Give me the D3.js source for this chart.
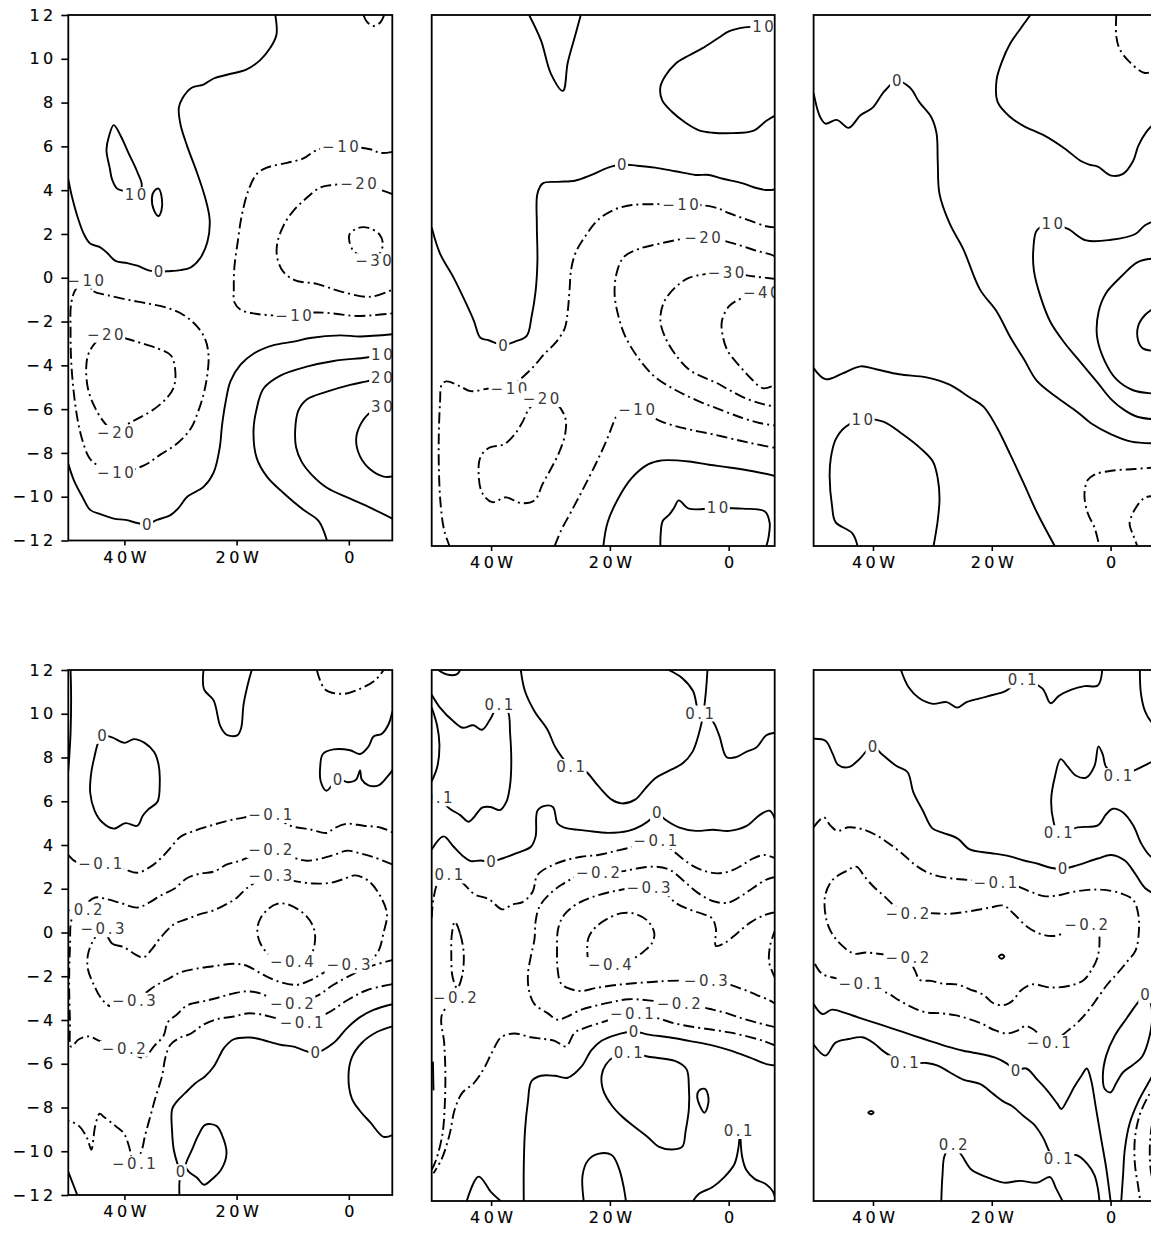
<!DOCTYPE html>
<html><head><meta charset="utf-8">
<script src="https://cdn.jsdelivr.net/npm/d3@7"></script>
<style>body{margin:0;background:#fff}</style>
</head><body>
<svg id="c" width="1151" height="1237" style="background:#fff"></svg>
<script>
// ---------- axes data ----------
const lonDomain=[-50,7.75], latDomain=[-12,12];
const xTicks=[-40,-20,0];
const xTickLabels=["40W","20W","0"];
const yTicks=[12,10,8,6,4,2,0,-2,-4,-6,-8,-10,-12];

// ---------- panel 1 (top-left) contour lines [lon,lat] ----------
const p1Lines=[
{v:0,p:[[-13.1,12],[-12.9,11.1],[-14.0,10.5],[-15.8,9.94],[-18.2,9.52],[-21.7,9.27],[-24.1,9.1],[-25.9,8.82],[-28.0,8.68],[-29.7,8.18],[-30.3,7.76],[-30.0,7.0],[-28.8,6.0],[-27.1,4.83],[-25.6,3.65],[-24.8,2.65],[-25.2,1.64],[-26.5,0.89],[-28.2,0.47],[-30.0,0.35],[-32.4,0.30],[-33.9,0.27],[-35.7,0.34],[-37.7,0.55],[-39.5,0.67],[-41.6,0.77],[-43.1,1.14],[-44.3,1.39],[-46.1,1.56],[-47.2,1.98],[-48.4,2.82],[-49.3,3.65],[-50,4.49]]},
{v:10,c:1,p:[[-41.9,6.97],[-42.8,6.42],[-43.2,5.83],[-42.6,4.99],[-42.2,4.49],[-41.3,4.07],[-40.1,3.96],[-38.0,3.79],[-36.9,4.19],[-37.7,4.83],[-39.2,5.66],[-40.7,6.5]]},
{v:10,c:1,p:[[-33.9,4.07],[-33.3,3.57],[-33.4,3.07],[-33.9,2.82],[-34.7,3.07],[-35.1,3.65],[-34.7,3.96]]},
{v:-10,p:[[7.77,5.75],[5.6,5.7],[3.8,5.87],[-1.5,6.0],[-5.7,5.83],[-8.1,5.45],[-11.0,5.25],[-14.6,5.03],[-16.4,4.74],[-17.9,3.99],[-19.1,2.82],[-19.8,1.64],[-20.4,0.47],[-20.5,-0.54],[-20.4,-1.12],[-19.3,-1.46],[-17.0,-1.63],[-14.0,-1.71],[-9.85,-1.74],[-6.3,-1.59],[-2.7,-1.63],[0.83,-1.74],[4.4,-1.71],[7.77,-1.63]]},
{v:-20,p:[[7.77,3.82],[4.98,4.07],[1.72,4.32],[-2.73,4.24],[-5.1,4.12],[-7.5,3.65],[-9.85,3.07],[-11.6,2.4],[-12.7,1.64],[-12.8,0.97],[-11.75,0.30],[-9.55,-0.12],[-5.7,-0.28],[-1.54,-0.62],[3.8,-0.87],[7.77,-0.54]]},
{v:-30,c:1,p:[[0.12,1.98],[1.72,2.28],[3.5,2.28],[5.46,1.98],[6.05,1.47],[4.4,0.77],[2.3,0.97],[0.83,1.22],[0.12,1.64]]},
{v:0,p:[[-50,-8.5],[-49.0,-9.25],[-47.5,-10.0],[-46.1,-10.6],[-44.3,-10.8],[-41.9,-11.0],[-39.8,-11.06],[-37.7,-11.2],[-36.0,-11.26],[-34.2,-11.06],[-31.8,-10.84],[-30.3,-10.5],[-28.8,-10.0],[-25.9,-9.55],[-24.1,-8.9],[-23.0,-7.74],[-22.6,-6.74],[-22.0,-5.73],[-21.1,-4.73],[-19.3,-3.97],[-17.0,-3.47],[-13.4,-3.08],[-9.85,-2.92],[-6.9,-2.75],[-1.54,-2.63],[2.0,-2.68],[7.77,-2.58]]},
{v:10,p:[[7.77,-3.52],[5.9,-3.52],[3.2,-3.64],[-2.7,-3.8],[-7.5,-4.06],[-12.2,-4.47],[-15.2,-5.06],[-16.5,-6.07],[-17.0,-7.07],[-16.4,-8.25],[-14.6,-9.08],[-11.6,-9.84],[-8.1,-10.6],[-5.4,-11.1],[-3.9,-12]]},
{v:20,p:[[7.77,-4.56],[5.9,-4.56],[3.2,-4.73],[0.24,-4.89],[-3.9,-5.2],[-7.5,-5.56],[-9.0,-6.07],[-9.55,-6.9],[-9.4,-7.74],[-8.4,-8.41],[-6.6,-9.0],[-3.9,-9.59],[0.24,-10.09],[3.8,-10.5],[7.77,-11.0]]},
{v:30,p:[[7.77,-5.85],[5.9,-5.9],[3.8,-6.15],[2.0,-6.74],[1.3,-7.4],[2.0,-8.16],[3.8,-8.75],[6.2,-9.08],[7.77,-9.08]]},
{v:-10,c:1,p:[[-46.9,-0.12],[-45.5,-0.62],[-43.1,-0.79],[-39.5,-1.0],[-36.0,-1.17],[-32.4,-1.37],[-29.4,-1.71],[-27.1,-2.21],[-25.6,-2.8],[-25.0,-3.55],[-25.2,-4.39],[-25.8,-5.23],[-26.8,-6.07],[-28.2,-6.9],[-30.6,-7.57],[-33.6,-8.08],[-36.6,-8.58],[-41.6,-8.92],[-44.9,-8.55],[-46.3,-8.21],[-47.5,-7.41],[-48.4,-6.4],[-49.1,-5.06],[-49.5,-3.72],[-49.6,-2.38],[-49.5,-1.21],[-48.7,-0.54]]},
{v:-20,c:1,p:[[-43.4,-2.58],[-40.1,-2.75],[-37.2,-2.97],[-34.2,-3.22],[-31.7,-3.55],[-30.9,-4.39],[-31.3,-5.06],[-32.7,-5.56],[-35.1,-6.07],[-37.4,-6.4],[-39.5,-6.7],[-41.6,-7.07],[-43.7,-6.57],[-45.3,-5.9],[-46.5,-5.06],[-46.8,-4.06],[-46.4,-3.47],[-45.2,-2.97]]},
{v:-10,p:[[2.6,12],[3.2,11.7],[4.3,11.5],[5.6,11.66],[6.3,12]]}
];
const p1Labels=[["0",-33.9,0.27],["10",-38.0,3.79],["−10",-1.5,6.0],["−20",1.72,4.32],["−30",4.4,0.77],["−10",-9.85,-1.74],["−10",-46.9,-0.12],["−20",-43.4,-2.58],["−20",-41.6,-7.07],["−10",-41.6,-8.92],["0",-36.0,-11.26],["10",5.9,-3.52],["20",5.9,-4.56],["30",5.9,-5.9]];

// ---------- panel 2 (top-middle) ----------
const p2Lines=[
{v:0,p:[[-33.6,12],[-31.6,10.85],[-29.9,9.33],[-27.9,8.57],[-27.1,9.84],[-25.9,11.02],[-24.9,12]]},
{v:10,p:[[7.93,11.49],[5.8,11.49],[2.66,11.44],[0.11,11.27],[-1.87,10.94],[-4.4,10.5],[-6.7,10.17],[-8.95,9.8],[-10.65,9.25],[-11.5,8.74],[-11.2,8.15],[-9.6,7.64],[-7.25,7.13],[-5.0,6.79],[-2.7,6.68],[0.68,6.66],[4.1,6.76],[6.35,7.22],[7.93,7.47]]},
{v:0,p:[[-50,2.4],[-48.6,1.22],[-46.3,0.12],[-44.6,-0.81],[-42.9,-1.82],[-41.8,-2.59],[-40.4,-2.7],[-38.0,-2.92],[-35.9,-2.75],[-34.0,-2.5],[-33.2,-1.66],[-32.5,-0.47],[-32.2,0.88],[-32.3,2.57],[-32.2,3.92],[-31.3,4.39],[-28.8,4.46],[-25.9,4.51],[-23.1,4.77],[-20.3,5.1],[-18.0,5.24],[-15.5,5.19],[-12.4,5.1],[-9.0,4.94],[-5.55,4.77],[-3.3,4.77],[-1.0,4.6],[2.4,4.39],[4.65,4.18],[6.35,4.09],[7.93,4.12]]},
{v:-10,p:[[7.93,2.4],[6.35,2.45],[3.2,2.74],[0.11,3.04],[-2.7,3.33],[-8.1,3.45],[-12.4,3.45],[-16.3,3.41],[-19.2,3.21],[-22.0,2.74],[-24.2,1.98],[-25.7,1.3],[-26.5,0.54],[-26.8,-0.47],[-27.1,-1.4],[-27.6,-2.16],[-29.1,-2.8],[-31.0,-3.31],[-33.0,-3.94],[-35.0,-4.44],[-37.0,-4.87],[-40.1,-4.87],[-43.5,-5.0],[-45.2,-4.78],[-47.5,-4.56],[-48.3,-4.7],[-48.6,-5.54],[-48.8,-6.9],[-48.8,-8.42],[-48.5,-10.11],[-47.9,-11.29],[-47.0,-12]]},
{v:-20,p:[[7.93,1.05],[7.5,1.13],[4.65,1.35],[1.25,1.64],[-1.87,1.86],[-4.4,1.93],[-7.5,1.89],[-11.2,1.69],[-15.2,1.42],[-17.7,1.05],[-18.9,0.29],[-19.2,-0.64],[-18.6,-1.57],[-17.45,-2.5],[-15.2,-3.51],[-12.4,-4.36],[-8.95,-4.95],[-5.0,-5.46],[-1.0,-5.88],[2.4,-6.22],[5.2,-6.44],[7.93,-6.56]]},
{v:-30,p:[[7.93,0.07],[6.35,0.12],[3.8,0.2],[-0.45,0.37],[-3.85,0.29],[-6.7,0.12],[-8.95,-0.3],[-10.9,-0.98],[-11.5,-1.82],[-10.65,-2.59],[-8.95,-3.35],[-6.7,-4.02],[-4.4,-4.36],[-2.15,-4.61],[0.11,-4.95],[2.95,-5.34],[5.8,-5.59],[7.93,-5.71]]},
{v:-40,p:[[7.93,-0.47],[5.5,-0.56],[2.4,-0.78],[0.11,-1.15],[-1.13,-1.82],[-1.0,-2.5],[-0.17,-3.18],[1.8,-3.85],[3.8,-4.44],[5.8,-4.87],[7.93,-4.7]]},
{v:-10,p:[[-29.3,-12],[-28.2,-11.29],[-26.5,-10.44],[-24.2,-9.26],[-22.0,-8.08],[-20.3,-7.06],[-19.2,-6.3],[-18.3,-5.88],[-15.5,-5.83],[-11.2,-6.39],[-6.7,-6.73],[-2.7,-6.95],[1.8,-7.23],[4.65,-7.4],[7.93,-7.57]]},
{v:-20,c:1,p:[[-31.6,-5.34],[-28.8,-5.63],[-27.5,-6.22],[-27.5,-6.9],[-28.5,-7.74],[-29.9,-8.5],[-31.3,-9.18],[-32.7,-9.94],[-35.0,-10.06],[-37.5,-9.8],[-39.8,-10.02],[-41.5,-9.6],[-42.1,-8.75],[-41.8,-7.99],[-40.4,-7.57],[-37.8,-7.4],[-36.1,-6.98],[-34.7,-6.39],[-33.6,-5.8]]},
{v:0,p:[[-21.1,-12],[-20.4,-10.95],[-18.6,-9.85],[-16.3,-8.92],[-13.5,-8.3],[-11.2,-8.13],[-6.7,-8.18],[-3.3,-8.33],[0.11,-8.45],[4.1,-8.62],[7.93,-8.84]]},
{v:10,p:[[-11.5,-12],[-11.45,-11.46],[-11.1,-10.87],[-10.0,-10.58],[-9.2,-10.28],[-8.4,-9.94],[-6.7,-10.31],[-1.87,-10.28],[2.4,-10.31],[6.1,-10.44],[6.9,-10.95],[6.7,-11.63],[6.35,-12]]}
];
const p2Labels=[["10",5.8,11.49],["0",-18.0,5.24],["0",-38.0,-2.92],["−10",-8.1,3.45],["−20",-4.4,1.93],["−30",-0.45,0.37],["−40",5.5,-0.56],["−10",-37.0,-4.87],["−20",-31.6,-5.34],["−10",-15.5,-5.83],["10",-1.87,-10.28]];

// ---------- panel 3 (top-right) ----------
const p3Lines=[
{v:0,p:[[-50,8.47],[-48.9,7.39],[-48.0,7.09],[-46.1,7.26],[-44.1,6.9],[-42.1,7.47],[-40.1,7.8],[-38.1,8.55],[-36.0,9.02],[-33.8,8.72],[-32.2,8.06],[-30.2,7.39],[-29.3,6.65],[-29.1,5.4],[-28.8,3.91],[-27.1,2.58],[-24.8,1.42],[-22.0,-0.4],[-19.2,-1.39],[-16.9,-2.55],[-14.6,-3.55],[-12.4,-4.54],[-9.0,-5.29],[-5.55,-5.95],[-3.3,-6.45],[0.11,-6.95],[3.5,-7.28],[7.93,-7.36]]},
{v:0,p:[[-13.5,12],[-15.2,11.37],[-16.9,10.71],[-18.3,9.88],[-19.2,9.05],[-19.0,8.06],[-16.9,7.39],[-14.6,6.98],[-11.2,6.56],[-7.8,5.98],[-5.0,5.4],[-3.6,5.24],[-2.15,5.15],[0.11,4.74],[2.1,4.82],[3.8,5.4],[4.65,6.07],[6.06,6.73],[7.93,7.23]]},
{v:-10,p:[[0.96,12],[0.96,11.04],[1.53,10.46],[3.2,9.88],[5.8,9.38],[7.93,9.55]]},
{v:10,p:[[7.93,2.75],[5.8,2.5],[4.1,2.09],[0.11,1.84],[-4.1,1.81],[-7.25,2.34],[-9.8,2.55],[-12.35,2.29],[-13.0,1.42],[-12.9,0.43],[-11.8,-0.73],[-10.1,-1.89],[-7.8,-2.8],[-5.0,-3.71],[-2.15,-4.63],[0.11,-5.37],[2.4,-5.87],[4.65,-6.17],[7.93,-6.28]]},
{v:20,p:[[7.93,1.01],[4.65,0.84],[1.8,0.18],[-0.74,-0.56],[-2.0,-1.39],[-2.27,-2.55],[-1.0,-3.63],[0.96,-4.46],[3.8,-4.96],[7.93,-5.12]]},
{v:30,p:[[7.93,-1.14],[5.8,-1.56],[4.65,-2.06],[4.65,-2.72],[5.5,-3.08],[7.93,-3.18]]},
{v:0,p:[[-50,-3.96],[-48.0,-4.46],[-45.2,-4.21],[-42.1,-3.88],[-39.5,-4.01],[-35.6,-4.24],[-31.0,-4.38],[-27.1,-4.71],[-23.7,-5.29],[-21.4,-5.7],[-19.2,-6.61],[-16.9,-7.86],[-14.6,-9.18],[-12.35,-10.51],[-9.4,-12]]},
{v:10,p:[[-42.6,-12],[-43.5,-11.42],[-46.3,-10.92],[-46.9,-10.18],[-47.3,-8.85],[-47.1,-8.02],[-46.3,-7.19],[-44.6,-6.61],[-41.8,-6.28],[-38.4,-6.37],[-35.0,-6.95],[-31.9,-7.61],[-29.9,-8.19],[-29.1,-8.94],[-28.8,-9.85],[-29.1,-10.84],[-29.8,-12]]},
{v:-10,p:[[7.93,-8.44],[4.1,-8.52],[0.11,-8.6],[-2.7,-8.77],[-3.85,-9.02],[-4.4,-9.68],[-3.85,-10.51],[-2.7,-11.17],[-1.9,-12]]},
{v:-20,p:[[7.93,-9.76],[5.8,-9.81],[4.1,-10.34],[3.2,-11.0],[3.8,-11.5],[4.5,-12]]}
];
const p3Labels=[["0",-36.0,9.02],["10",-9.8,2.55],["10",-41.8,-6.28]];

// ---------- panel 4 (bottom-left) ----------
const p4Lines=[
{v:0,p:[[-49.6,12],[-49.5,10.8],[-49.6,9.1],[-50,7.4]]},
{v:0,c:1,p:[[-44.0,9.01],[-42.2,8.92],[-40.0,8.67],[-38.3,8.84],[-36.4,8.67],[-34.7,8.25],[-33.9,7.66],[-33.7,6.82],[-34.1,5.98],[-35.7,5.64],[-36.7,5.35],[-37.7,4.88],[-39.8,5.0],[-41.9,4.75],[-44.0,5.05],[-45.3,5.56],[-46.1,6.4],[-45.9,7.32],[-45.3,8.08],[-44.7,8.67]]},
{v:0,p:[[-25.9,12],[-25.8,11.11],[-24.1,10.61],[-22.9,9.43],[-21.8,9.04],[-19.9,9.01],[-19.2,9.34],[-18.75,10.44],[-17.9,11.45],[-17.3,12]]},
{v:-0.1,p:[[-5.7,12],[-4.2,11.11],[-0.95,10.91],[2.0,11.14],[4.7,11.53],[6.2,12]]},
{v:0,p:[[7.77,10.1],[7.06,9.51],[5.9,9.09],[4.4,8.96],[3.5,8.5],[2.0,8.16],[0.24,8.33],[-2.73,8.37],[-4.63,8.16],[-5.1,7.58],[-5.0,6.9],[-4.0,6.48],[-2.0,6.99],[-0.06,6.87],[1.3,6.99],[2.0,7.41],[2.3,6.99],[3.5,6.73],[5.3,6.73],[6.8,7.1],[7.77,7.41]]},
{v:-0.1,p:[[-50,3.54],[-48.4,3.2],[-44.3,3.16],[-40.1,2.9],[-37.7,2.73],[-35.4,3.0],[-33.6,3.37],[-31.8,3.87],[-30.0,4.38],[-27.7,4.63],[-24.7,4.88],[-21.7,5.1],[-18.75,5.25],[-14.0,5.39],[-10.4,4.88],[-6.9,4.71],[-3.9,4.55],[-2.7,4.75],[-0.36,4.97],[2.6,4.88],[5.6,4.8],[7.77,4.58]]},
{v:-0.2,p:[[7.77,3.11],[4.4,3.45],[2.0,3.62],[-0.36,3.74],[-2.7,3.54],[-5.1,3.37],[-7.5,3.28],[-9.85,3.42],[-14.0,3.79],[-17.0,3.54],[-19.35,3.28],[-21.7,3.11],[-24.1,2.78],[-26.5,2.69],[-28.8,2.49],[-31.2,1.99],[-33.6,1.68],[-35.7,1.35],[-37.7,1.14],[-40.7,1.35],[-43.1,1.52],[-45.2,1.6],[-47.8,1.06],[-49.3,0.67],[-49.7,-0.67],[-49.85,-2.36],[-49.7,-4.04],[-49.5,-5.22],[-48.1,-4.88],[-46.35,-4.75],[-44.3,-4.97],[-40.1,-5.3],[-36.6,-5.72],[-34.7,-5.19],[-33.0,-4.71],[-32.3,-4.12],[-30.6,-3.74],[-28.8,-3.33],[-25.3,-3.11],[-22.9,-2.95],[-20.5,-2.78],[-18.2,-2.69],[-15.8,-2.78],[-13.4,-3.06],[-10.15,-3.23],[-5.7,-2.9],[-2.73,-2.39],[0.83,-1.89],[3.8,-1.55],[7.77,-1.26]]},
{v:-0.3,c:1,p:[[-43.9,0.17],[-42.2,-0.5],[-40.1,-0.67],[-38.0,-1.01],[-36.6,-1.14],[-35.1,-0.76],[-33.6,-0.25],[-31.2,0.37],[-28.8,0.62],[-26.5,0.84],[-24.1,1.01],[-21.7,1.31],[-19.9,1.6],[-18.2,2.02],[-14.0,2.61],[-9.85,2.36],[-6.3,2.24],[-3.3,2.27],[-0.95,2.44],[1.13,2.61],[3.5,2.36],[5.58,1.68],[6.8,0.84],[6.2,0.0],[5.3,-0.84],[3.8,-1.26],[-0.06,-1.48],[-3.9,-1.77],[-6.9,-2.19],[-9.26,-2.39],[-12.2,-2.27],[-15.2,-1.94],[-18.2,-1.52],[-20.5,-1.43],[-23.5,-1.52],[-27.1,-1.65],[-30.0,-1.82],[-32.4,-2.15],[-34.5,-2.44],[-38.3,-3.11],[-42.5,-3.37],[-44.3,-2.95],[-45.5,-2.36],[-46.5,-1.68],[-46.5,-1.01],[-45.5,-0.34]]},
{v:-0.4,c:1,p:[[-10.15,-1.31],[-12.8,-1.26],[-14.6,-0.93],[-15.9,-0.42],[-16.3,0.17],[-15.7,0.67],[-14.3,1.09],[-12.8,1.31],[-11.2,1.31],[-9.26,1.09],[-7.6,0.76],[-6.4,0.3],[-6.0,-0.2],[-6.4,-0.84],[-7.4,-1.21]]},
{v:-0.1,p:[[7.77,-2.36],[3.2,-2.64],[-0.36,-3.11],[-3.9,-3.7],[-8.4,-4.12],[-12.2,-3.96],[-15.8,-3.74],[-18.2,-3.7],[-20.5,-3.84],[-23.5,-3.96],[-25.9,-4.21],[-28.2,-4.63],[-30.0,-4.8],[-31.8,-5.13],[-32.7,-5.72],[-33.3,-6.57],[-34.5,-7.58],[-35.4,-8.42],[-36.3,-9.26],[-37.0,-10.02],[-38.3,-10.57],[-39.2,-9.76],[-40.1,-9.18],[-41.6,-8.84],[-43.7,-8.42],[-44.4,-8.28],[-45.2,-8.84],[-45.9,-9.93],[-46.6,-9.43],[-48.1,-8.84],[-50,-8.59]]},
{v:0,p:[[7.77,-3.28],[4.4,-3.54],[2.0,-3.87],[-0.36,-4.38],[-2.73,-5.05],[-6.0,-5.5],[-9.85,-5.22],[-12.2,-5.13],[-15.8,-4.88],[-17.6,-4.8],[-20.5,-4.88],[-22.3,-5.3],[-23.2,-5.72],[-24.1,-6.14],[-25.6,-6.57],[-27.4,-6.9],[-29.1,-7.32],[-30.6,-7.71],[-31.5,-8.08],[-31.5,-9.09],[-31.2,-9.93],[-30.5,-10.61],[-30.0,-10.94],[-30.2,-11.45],[-30.2,-12]]},
{v:0,c:1,p:[[-29.1,-10.69],[-27.95,-9.93],[-26.8,-9.26],[-25.6,-8.79],[-23.6,-8.84],[-22.6,-9.26],[-21.8,-10.1],[-22.8,-10.86],[-24.4,-11.28],[-25.8,-11.53],[-27.1,-11.2],[-28.5,-10.94]]},
{v:0.1,p:[[7.77,-4.29],[5.0,-4.55],[2.3,-5.05],[0.53,-5.72],[-0.06,-6.57],[0.53,-7.58],[2.0,-8.16],[3.8,-8.67],[6.2,-9.34],[7.77,-9.26]]},
{v:0,p:[[-50,-10.94],[-48.4,-12]]}
];
const p4Labels=[["0",-44.0,9.01],["0",-2.0,6.99],["−0.1",-14.0,5.39],["−0.1",-44.3,3.16],["−0.2",-14.0,3.79],["−0.3",-14.0,2.61],["−0.2",-47.8,1.06],["−0.3",-43.9,0.17],["−0.4",-10.15,-1.31],["−0.3",-0.06,-1.48],["−0.3",-38.3,-3.11],["−0.2",-10.15,-3.23],["−0.1",-8.4,-4.12],["−0.2",-40.1,-5.3],["0",-6.0,-5.5],["−0.1",-38.3,-10.57],["0",-30.0,-10.94]];

// ---------- panel 5 (bottom-middle) ----------
const p5Lines=[
{v:0.1,p:[[-48.9,12],[-47.5,11.8],[-45.8,11.8],[-45.2,12]]},
{v:0.1,p:[[-50,10.3],[-49.1,9.5],[-48.7,8.64],[-49.05,7.64],[-50,6.97]]},
{v:0.1,p:[[-50,10.88],[-48.6,10.3],[-46.3,9.67],[-44.8,9.39],[-43.0,9.5],[-41.5,9.3],[-40.1,9.8],[-38.7,10.44],[-37.2,10.14],[-36.8,9.14],[-36.6,7.81],[-36.8,6.81],[-37.4,6.06],[-38.5,5.67],[-40.1,5.81],[-41.5,5.78],[-43.0,5.31],[-43.8,5.14],[-45.2,5.44],[-46.9,5.72],[-48.3,6.06],[-48.9,6.22],[-50,6.27]]},
{v:0.1,p:[[-3.57,12],[-3.85,10.97],[-4.3,9.97],[-5.0,9.14],[-6.1,8.3],[-7.8,7.77],[-10.1,7.44],[-12.35,7.11],[-14.05,6.64],[-15.75,6.14],[-18.0,5.97],[-19.7,6.14],[-22.0,6.77],[-24.2,7.44],[-26.6,7.64],[-29.1,8.47],[-30.5,9.3],[-32.7,10.14],[-34.3,11.05],[-35.0,12]]},
{v:0.1,p:[[-10.1,12],[-7.8,11.63],[-6.0,11.05],[-4.9,10.05],[-2.8,9.72],[-1.6,9.05],[-0.34,8.06],[1.25,8.06],[2.95,8.3],[4.65,8.5],[6.35,9.05],[7.93,9.17]]},
{v:0,p:[[-50,3.89],[-48.0,4.48],[-46.3,4.01],[-44.6,3.56],[-43.4,3.36],[-41.8,3.39],[-40.0,3.34],[-38.1,3.48],[-35.6,3.73],[-33.3,4.01],[-32.5,4.48],[-32.2,5.64],[-31.0,5.86],[-29.6,5.81],[-28.8,5.06],[-27.8,4.89],[-23.7,4.73],[-20.3,4.64],[-16.9,4.73],[-14.6,4.98],[-12.9,5.31],[-12.1,5.56],[-10.65,5.23],[-8.4,4.89],[-5.55,4.73],[-2.7,4.78],[0.11,4.73],[2.95,4.94],[5.2,5.44],[6.9,5.64],[7.93,5.14]]},
{v:-0.1,p:[[-50,0.81],[-49.7,1.65],[-48.9,2.4],[-47.1,2.73],[-44.9,2.4],[-42.7,1.85],[-40.4,1.65],[-38.1,1.18],[-36.4,1.4],[-34.7,1.51],[-33.0,1.98],[-32.2,2.73],[-29.9,3.15],[-27.6,3.39],[-24.8,3.56],[-22.0,3.64],[-19.2,3.81],[-16.6,3.98],[-14.9,4.18],[-12.35,4.28],[-10.1,3.98],[-7.8,3.48],[-5.8,3.11],[-3.85,2.9],[-1.87,2.81],[0.11,2.9],[2.1,3.15],[4.1,3.48],[6.06,3.64],[7.93,3.48]]},
{v:-0.2,p:[[7.93,2.65],[6.35,2.53],[4.1,2.15],[2.1,1.78],[-0.17,1.48],[-2.7,1.56],[-5.3,1.95],[-7.5,2.45],[-9.8,2.95],[-12.35,3.11],[-15.2,3.04],[-18.0,2.9],[-22.0,2.85],[-25.4,2.68],[-28.2,2.28],[-30.5,1.78],[-31.9,1.28],[-32.5,0.65],[-32.7,-0.18],[-33.3,-0.93],[-33.8,-1.77],[-33.6,-2.51],[-32.7,-3.1],[-30.5,-3.51],[-28.8,-3.81],[-27.1,-3.65],[-24.8,-3.35],[-22.5,-3.18],[-19.7,-3.01],[-16.9,-2.88],[-13.5,-2.93],[-8.4,-3.1],[-5.0,-3.21],[-2.7,-3.35],[0.11,-3.55],[2.4,-3.76],[4.65,-3.93],[7.93,-4.15]]},
{v:-0.3,p:[[7.93,1.06],[5.8,0.9],[3.5,0.56],[1.25,0.06],[-0.74,-0.35],[-2.15,-0.47],[-2.15,0.31],[-2.8,0.78],[-4.4,0.98],[-6.7,1.18],[-8.95,1.48],[-10.65,1.9],[-13.5,2.15],[-16.9,2.11],[-19.7,1.98],[-22.5,1.78],[-25.4,1.45],[-27.65,0.95],[-28.7,0.32],[-28.9,-0.68],[-28.8,-1.52],[-28.2,-2.18],[-26.5,-2.43],[-24.8,-2.51],[-22.5,-2.38],[-19.7,-2.26],[-16.9,-2.18],[-13.5,-2.11],[-10.1,-2.05],[-3.85,-2.05],[-0.45,-2.18],[2.4,-2.43],[4.65,-2.68],[6.9,-2.93],[7.93,-3.1]]},
{v:-0.4,c:1,p:[[-20.0,-1.32],[-23.4,-1.22],[-23.8,-0.68],[-23.6,-0.1],[-22.5,0.35],[-20.6,0.73],[-18.0,1.01],[-15.75,0.98],[-13.6,0.65],[-12.5,0.07],[-13.0,-0.38],[-14.3,-0.72],[-16.0,-1.05],[-17.45,-1.27]]},
{v:-0.1,p:[[7.93,-4.98],[5.8,-4.76],[2.95,-4.55],[0.11,-4.38],[-2.7,-4.26],[-5.55,-4.15],[-8.95,-3.98],[-12.35,-3.71],[-16.3,-3.55],[-19.4,-3.76],[-22.0,-3.98],[-24.2,-4.18],[-25.9,-4.38],[-27.4,-5.01],[-29.3,-4.76],[-31.0,-4.68],[-33.3,-4.6],[-36.1,-4.43],[-38.3,-4.6],[-39.8,-5.26],[-41.2,-6.01],[-42.9,-6.67],[-44.8,-7.09],[-46.1,-7.84],[-47.0,-9.0],[-48.3,-10.09],[-49.7,-10.75]]},
{v:-0.2,c:1,p:[[-46.1,0.62],[-45.2,0.07],[-44.6,-0.85],[-44.9,-1.85],[-45.7,-2.38],[-46.5,-1.85],[-46.7,-0.85],[-46.6,0.07]]},
{v:-0.2,p:[[-46.1,-2.81],[-48.3,-3.6],[-47.9,-4.85],[-47.7,-6.18],[-47.8,-7.67],[-48.2,-9.0],[-49.3,-10.17],[-50,-10.59]]},
{v:0,p:[[7.93,-5.88],[6.35,-5.81],[3.5,-5.51],[0.11,-5.18],[-3.3,-4.93],[-6.7,-4.76],[-10.1,-4.6],[-13.5,-4.48],[-16.0,-4.34],[-19.2,-4.51],[-21.4,-4.76],[-23.1,-5.18],[-24.8,-5.93],[-27.1,-6.43],[-29.3,-6.34],[-31.6,-6.34],[-33.2,-6.59],[-33.8,-7.51],[-34.3,-8.84],[-34.5,-10.5],[-34.5,-12]]},
{v:0.1,c:1,p:[[-16.9,-5.31],[-13.5,-5.48],[-8.95,-5.68],[-7.1,-6.04],[-6.7,-6.84],[-6.7,-7.84],[-7.25,-8.84],[-7.8,-9.54],[-9.5,-9.67],[-11.8,-9.54],[-13.5,-9.14],[-15.75,-8.67],[-18.0,-8.17],[-19.7,-7.67],[-21.1,-7.01],[-21.4,-6.34],[-20.7,-5.84],[-19.3,-5.48]]},
{v:0.1,c:1,p:[[-5.0,-7.01],[-4.0,-6.93],[-3.4,-7.34],[-3.57,-7.76],[-4.1,-8.01],[-4.9,-7.67],[-5.3,-7.26]]},
{v:0.1,p:[[-6.0,-12],[-5.0,-11.67],[-2.7,-11.37],[-0.74,-10.92],[0.96,-10.34],[1.64,-9.6],[1.8,-9.2]]},
{v:0.1,p:[[2.0,-9.2],[2.27,-10.0],[2.95,-10.59],[4.36,-11.0],[6.35,-11.25],[7.5,-11.59],[7.93,-12]]},
{v:0.1,p:[[-24.4,-12],[-24.6,-10.84],[-23.7,-10.17],[-22.0,-9.87],[-19.7,-9.92],[-18.5,-10.5],[-17.7,-11.34],[-17.3,-12]]},
{v:0.1,p:[[-44.1,-12],[-42.1,-10.9],[-40.0,-11.6],[-38.4,-12]]},
{v:0,p:[[-49.8,-5.7],[-49.7,-7.0]]},
{v:-0.3,p:[[7.93,0.32],[7.0,-0.43],[6.8,-1.18],[7.4,-1.68],[7.93,-1.98]]}
];
const p5Labels=[["0.1",-38.7,10.44],["0.1",-4.9,10.05],["0.1",-26.6,7.64],["0.1",-48.9,6.22],["0",-12.1,5.56],["0",-40.0,3.34],["−0.1",-12.35,4.28],["0.1",-47.1,2.73],["−0.2",-22.0,2.85],["−0.3",-13.5,2.15],["−0.4",-20.0,-1.32],["−0.3",-3.85,-2.05],["−0.2",-46.1,-2.81],["−0.2",-8.4,-3.1],["−0.1",-16.3,-3.55],["0",-16.0,-4.34],["0.1",-16.9,-5.31],["0.1",1.6,-8.8]];

// ---------- panel 6 (bottom-right) ----------
const p6Lines=[
{v:0.1,p:[[-35.3,12],[-34.0,11.22],[-32.2,10.72],[-29.9,10.47],[-27.6,10.55],[-25.8,10.3],[-24.25,10.55],[-22.0,10.72],[-19.7,10.88],[-17.7,11.05],[-14.9,11.55],[-11.5,11.17],[-10.1,10.5],[-8.7,10.83],[-6.7,11.1],[-4.4,11.27],[-2.15,11.3],[-1.4,12]]},
{v:0.1,p:[[4.93,12],[5.1,10.97],[5.8,10.14],[6.9,9.64],[7.93,9.44]]},
{v:0,p:[[-50,8.89],[-48.0,8.8],[-46.8,8.22],[-45.9,7.72],[-44.1,7.61],[-42.4,7.94],[-40.1,8.55],[-38.4,8.17],[-36.1,7.67],[-34.2,7.39],[-33.2,6.47],[-31.6,5.64],[-30.0,4.84],[-28.2,4.64],[-25.8,4.39],[-23.7,3.89],[-20.3,3.73],[-17.45,3.61],[-14.6,3.39],[-12.1,3.23],[-10.1,3.06],[-8.1,3.01],[-5.55,3.18],[-2.15,3.48],[0.11,3.64],[2.4,3.39],[4.1,2.81],[5.8,2.15],[7.93,1.81]]},
{v:0.1,p:[[7.93,7.97],[6.35,7.77],[4.1,7.47],[1.25,7.22],[-0.74,7.61],[-1.3,8.17],[-2.04,8.55],[-2.7,7.67],[-4.1,7.14],[-5.8,7.22],[-7.25,7.64],[-8.4,7.97],[-9.4,7.14],[-10.0,6.14],[-9.6,5.14],[-8.8,4.64],[-5.55,4.89],[-2.15,4.98],[-0.74,5.48],[0.4,5.73],[2.1,5.56],[3.8,4.98],[5.2,4.14],[6.6,3.61],[7.93,3.39]]},
{v:-0.1,p:[[-50,4.89],[-48.3,5.34],[-47.2,4.98],[-46.0,4.73],[-44.1,4.89],[-41.9,4.81],[-39.5,4.54],[-37.2,4.14],[-35.0,3.68],[-32.7,3.15],[-30.5,2.81],[-27.6,2.61],[-24.8,2.53],[-22.5,2.48],[-19.4,2.4],[-16.3,2.28],[-13.5,1.98],[-11.2,1.78],[-8.95,1.81],[-6.7,1.95],[-3.85,2.06],[-1.0,2.06],[1.8,1.9],[3.8,1.61],[4.65,0.98],[4.76,0.15],[4.2,-0.68],[2.66,-1.22],[1.25,-1.68],[-0.45,-2.18],[-2.15,-2.81],[-3.85,-3.43],[-5.55,-3.93],[-7.0,-4.26],[-10.4,-4.84],[-12.9,-4.26],[-14.3,-4.09],[-15.75,-4.31],[-17.45,-4.43],[-19.7,-4.26],[-21.7,-3.98],[-24.0,-3.76],[-26.2,-3.6],[-28.8,-3.51],[-31.0,-3.48],[-33.3,-3.26],[-35.6,-2.93],[-37.6,-2.6],[-42.1,-2.18],[-46.3,-1.93],[-48.6,-1.72],[-49.7,-1.32],[-50,-1.1]]},
{v:-0.2,c:1,p:[[-34.2,0.98],[-30.5,1.01],[-27.1,0.98],[-23.7,1.1],[-20.3,1.26],[-18.0,1.35],[-16.3,0.98],[-14.05,0.4],[-11.8,0.07],[-9.5,-0.02],[-4.1,0.48],[-2.15,0.18],[-1.87,-0.38],[-2.27,-1.05],[-3.2,-1.55],[-4.5,-2.01],[-6.7,-2.26],[-10.1,-2.35],[-13.2,-2.21],[-15.2,-2.51],[-16.4,-2.93],[-18.0,-3.15],[-19.8,-3.05],[-21.4,-2.68],[-23.7,-2.43],[-25.9,-2.21],[-28.2,-2.18],[-30.2,-2.05],[-32.1,-2.01],[-33.0,-1.55],[-34.2,-1.02],[-38.4,-0.85],[-41.2,-0.77],[-43.2,-0.82],[-45.5,-0.38],[-47.1,0.18],[-47.95,0.85],[-48.05,1.81],[-46.8,2.51],[-44.6,2.9],[-42.8,3.11],[-41.4,2.65],[-39.8,2.18],[-38.1,1.78],[-36.4,1.35]]},
{v:0,p:[[-50,-3.1],[-48.5,-3.55],[-46.9,-3.35],[-44.6,-3.51],[-42.4,-3.71],[-39.5,-3.96],[-36.7,-4.21],[-33.3,-4.51],[-30.5,-4.76],[-27.6,-5.01],[-24.8,-5.21],[-21.4,-5.38],[-19.2,-5.54],[-17.45,-5.79],[-16.0,-6.09],[-14.2,-6.01],[-12.35,-6.51],[-10.65,-7.01],[-9.0,-7.59],[-8.3,-7.84],[-7.25,-7.42],[-6.1,-6.84],[-4.9,-6.34],[-4.0,-6.01],[-3.3,-6.51],[-2.44,-7.84],[-1.6,-9.17],[-0.74,-10.5],[0,-12]]},
{v:0,p:[[7.93,-5.93],[6.35,-6.67],[4.65,-7.51],[3.2,-8.51],[2.4,-9.67],[2.1,-10.84],[1.8,-12]]},
{v:-0.1,p:[[7.93,-6.59],[6.35,-7.26],[4.93,-8.09],[4.1,-9.17],[4.1,-10.34],[4.65,-11.34],[5.0,-12]]},
{v:-0.2,p:[[7.93,-7.59],[7.0,-8.51],[6.6,-9.67],[6.9,-10.84],[7.93,-11.67]]},
{v:0,c:1,p:[[5.8,-2.68],[4.65,-3.01],[2.66,-3.76],[0.68,-4.54],[-0.74,-5.43],[-1.3,-6.34],[-1.0,-6.93],[0.0,-7.09],[0.96,-6.67],[2.1,-6.18],[3.8,-5.84],[5.3,-5.48],[6.6,-4.51],[7.0,-3.6],[6.6,-2.93]]},
{v:0.1,p:[[-50,-4.93],[-48.0,-5.43],[-46.3,-4.84],[-44.1,-4.68],[-41.8,-4.6],[-39.8,-4.88],[-38.1,-5.26],[-34.7,-5.76],[-31.0,-5.76],[-29.1,-5.88],[-27.1,-6.18],[-24.8,-6.51],[-22.0,-6.71],[-19.7,-7.17],[-18.0,-7.51],[-16.6,-7.71],[-14.6,-8.17],[-12.9,-8.54],[-11.3,-9.17],[-10.1,-9.84],[-8.8,-10.09],[-5.8,-9.92],[-3.85,-10.34],[-2.7,-10.84],[-2.15,-11.42],[-1.87,-12]]},
{v:0.2,p:[[-28.5,-12],[-28.3,-10.84],[-27.9,-9.92],[-26.5,-9.47],[-25.1,-9.92],[-23.4,-10.59],[-20.85,-10.92],[-18.0,-11.17],[-15.2,-11.09],[-12.35,-11.17],[-10.2,-10.92],[-9.2,-11.42],[-8.1,-12]]},
{v:0.1,c:1,p:[[-18.8,-0.95],[-18.3,-0.86],[-17.9,-0.95],[-18.3,-1.05]]},
{v:0.1,c:1,p:[[-40.8,-8.0],[-40.3,-7.93],[-39.9,-8.0],[-40.3,-8.08]]}
];
const p6Labels=[["0.1",-14.9,11.55],["0",-40.1,8.55],["0.1",1.25,7.22],["0.1",-8.8,4.64],["0",-8.1,3.01],["−0.1",-19.4,2.4],["−0.2",-34.2,0.98],["−0.2",-4.1,0.48],["−0.2",-34.2,-1.02],["−0.1",-42.1,-2.18],["0",5.8,-2.68],["−0.1",-10.4,-4.84],["0.1",-34.7,-5.76],["0",-16.0,-6.09],["0.2",-26.5,-9.47],["0.1",-8.8,-10.09]];

// ---------- layout ----------
const panels=[
 {lines:p1Lines,labels:p1Labels,x0:68.3,x1:392.3,y0:15,y1:540.5,yAxis:true},
 {lines:p2Lines,labels:p2Labels,x0:431.7,x1:774.7,y0:15,y1:546,yAxis:false},
 {lines:p3Lines,labels:p3Labels,x0:813.6,x1:1156.6,y0:15,y1:546,yAxis:false},
 {lines:p4Lines,labels:p4Labels,x0:68.3,x1:392.3,y0:670,y1:1195,yAxis:true},
 {lines:p5Lines,labels:p5Labels,x0:431.7,x1:774.7,y0:670,y1:1201,yAxis:false},
 {lines:p6Lines,labels:p6Labels,x0:813.6,x1:1156.6,y0:670,y1:1201,yAxis:false}
];

const svg=d3.select('#c');
svg.append('rect').attr('width',1151).attr('height',1237).attr('fill','#fff');
const defs=svg.append('defs');
const FONT="'DejaVu Sans', Verdana, sans-serif";

panels.forEach((P,i)=>{
  const x=d3.scaleLinear().domain(lonDomain).range([P.x0,P.x1]);
  const y=d3.scaleLinear().domain(latDomain).range([P.y1,P.y0]);
  defs.append('clipPath').attr('id','cp'+i).append('rect')
    .attr('x',P.x0).attr('y',P.y0).attr('width',P.x1-P.x0).attr('height',P.y1-P.y0);
  const g=svg.append('g');
  const cg=g.append('g').attr('clip-path',`url(#cp${i})`);
  const open=d3.line().x(d=>x(d[0])).y(d=>y(d[1])).curve(d3.curveCatmullRom.alpha(0.5));
  const closed=d3.line().x(d=>x(d[0])).y(d=>y(d[1])).curve(d3.curveCatmullRomClosed.alpha(0.5));
  cg.selectAll('path.ct').data(P.lines).join('path').attr('class','ct')
    .attr('d',d=>(d.c?closed:open)(d.p))
    .attr('fill','none').attr('stroke','#000').attr('stroke-width',1.9)
    .attr('stroke-linejoin','round')
    .attr('stroke-dasharray',d=>d.v<0?'11,4,2,4':null);
  const lg=cg.selectAll('g.cl').data(P.labels).join('g').attr('class','cl');
  lg.append('text')
    .attr('x',d=>x(d[1])).attr('y',d=>y(d[2])).attr('dy','0.36em').attr('dx',1.25)
    .attr('text-anchor','middle')
    .style('font-family',FONT).style('font-size','15px').style('letter-spacing','2.5px')
    .attr('fill','#3a3a3a')
    .text(d=>d[0]);
  lg.each(function(){
    const gg=d3.select(this); const b=gg.select('text').node().getBBox();
    gg.insert('rect','text').attr('x',b.x-2).attr('y',b.y+1).attr('width',b.width+1).attr('height',b.height-2)
      .attr('fill','#fff');
  });
  g.append('rect').attr('x',P.x0).attr('y',P.y0).attr('width',P.x1-P.x0).attr('height',P.y1-P.y0)
    .attr('fill','none').attr('stroke','#000').attr('stroke-width',1.8);
  const xa=g.append('g').attr('transform',`translate(0,${P.y1})`)
    .call(d3.axisBottom(x).tickValues(xTicks).tickFormat((d,j)=>xTickLabels[j]).tickSize(5).tickPadding(6));
  xa.select('.domain').remove();
  xa.selectAll('line').attr('stroke','#000').attr('stroke-width',1.6);
  xa.selectAll('text').attr('dx',1.75).style('font-family',FONT).style('font-size','16px')
    .style('letter-spacing','3.5px').attr('fill','#000').attr('stroke','#000').attr('stroke-width',0.15);
  if(P.yAxis){
    const ya=g.append('g').attr('transform',`translate(${P.x0},0)`)
      .call(d3.axisLeft(y).tickValues(yTicks).tickFormat(d3.format('d')).tickSize(7).tickPadding(8));
    ya.select('.domain').remove();
    ya.selectAll('line').attr('stroke','#000').attr('stroke-width',1.6);
    ya.selectAll('text').attr('dx',3.5).style('font-family',FONT).style('font-size','16px')
      .style('letter-spacing','3.5px').attr('fill','#000').attr('stroke','#000').attr('stroke-width',0.15);
  }
});
</script>
</body></html>
